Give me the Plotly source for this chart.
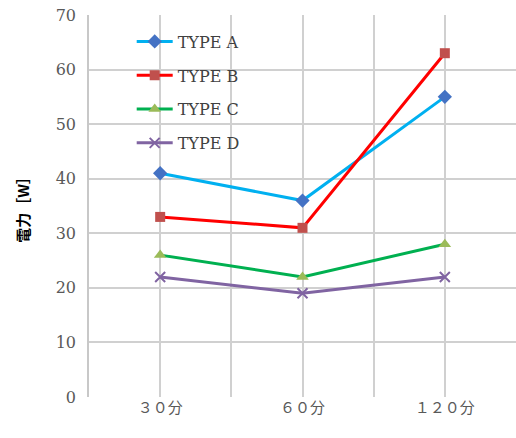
import plotly.graph_objects as go

categories = ["３０分", "６０分", "１２０分"]
type_a = [41, 36, 55]
type_b = [33, 31, 63]
type_c = [26, 22, 28]
type_d = [22, 19, 22]
series_names = ["TYPE A", "TYPE B", "TYPE C", "TYPE D"]
y_ticks = [0, 10, 20, 30, 40, 50, 60, 70]

x_pos = list(range(len(categories)))

styles = [
    dict(line=dict(color="#00B0F0", width=3), marker=dict(symbol="diamond", size=11, color="#4472C4")),
    dict(line=dict(color="#FF0000", width=3), marker=dict(symbol="square", size=10, color="#C0504D")),
    dict(line=dict(color="#00B050", width=3), marker=dict(symbol="triangle-up", size=11, color="#9BBB59")),
    dict(line=dict(color="#8064A2", width=3), marker=dict(symbol="x-thin", size=10, color="#8064A2",
                                                          line=dict(width=2, color="#8064A2"))),
]

fig = go.Figure()
for name, vals, st in zip(series_names, [type_a, type_b, type_c, type_d], styles):
    fig.add_trace(go.Scatter(x=x_pos, y=vals, mode="lines+markers", name=name, legendgroup=name,
                             line=st["line"], marker=st["marker"]))

tickvals = []
ticktext = []
for i, c in enumerate(categories):
    tickvals.append(i)
    ticktext.append(c)
    if i < len(categories) - 1:
        tickvals.append(i + 0.5)
        ticktext.append("")

fig.update_layout(
    width=516, height=438,
    margin=dict(l=89, r=0, t=15, b=41),
    paper_bgcolor="white", plot_bgcolor="white",
    font=dict(family="DejaVu Serif, Noto Sans CJK JP", size=15, color="#595959"),
    showlegend=True,
    legend=dict(x=0.1, y=0.975, xanchor="left", yanchor="top",
                bgcolor="rgba(0,0,0,0)", font=dict(size=16, color="#404040"),
                itemwidth=36, tracegroupgap=10),
    xaxis=dict(range=[-0.5, 2.5], tickvals=tickvals, ticktext=ticktext,
               showgrid=True, gridcolor="#D0D0D0", gridwidth=1.5,
               showline=False, zeroline=False, ticks="",
               tickfont=dict(family="DejaVu Serif, Noto Sans CJK JP", size=15, color="#595959")),
    yaxis=dict(range=[0, 70], tickvals=y_ticks, showgrid=True, gridcolor="#D0D0D0", gridwidth=1.5,
               showline=True, linecolor="#C8C8C8", linewidth=1.5, zeroline=False, ticks="",
               ticklabelstandoff=8, tickfont=dict(size=16),
               title=dict(text="<b>電力［W］</b>", font=dict(family="Noto Sans CJK JP", size=15, color="black"),
                          standoff=22)),
)

fig.write_html("out.html")
